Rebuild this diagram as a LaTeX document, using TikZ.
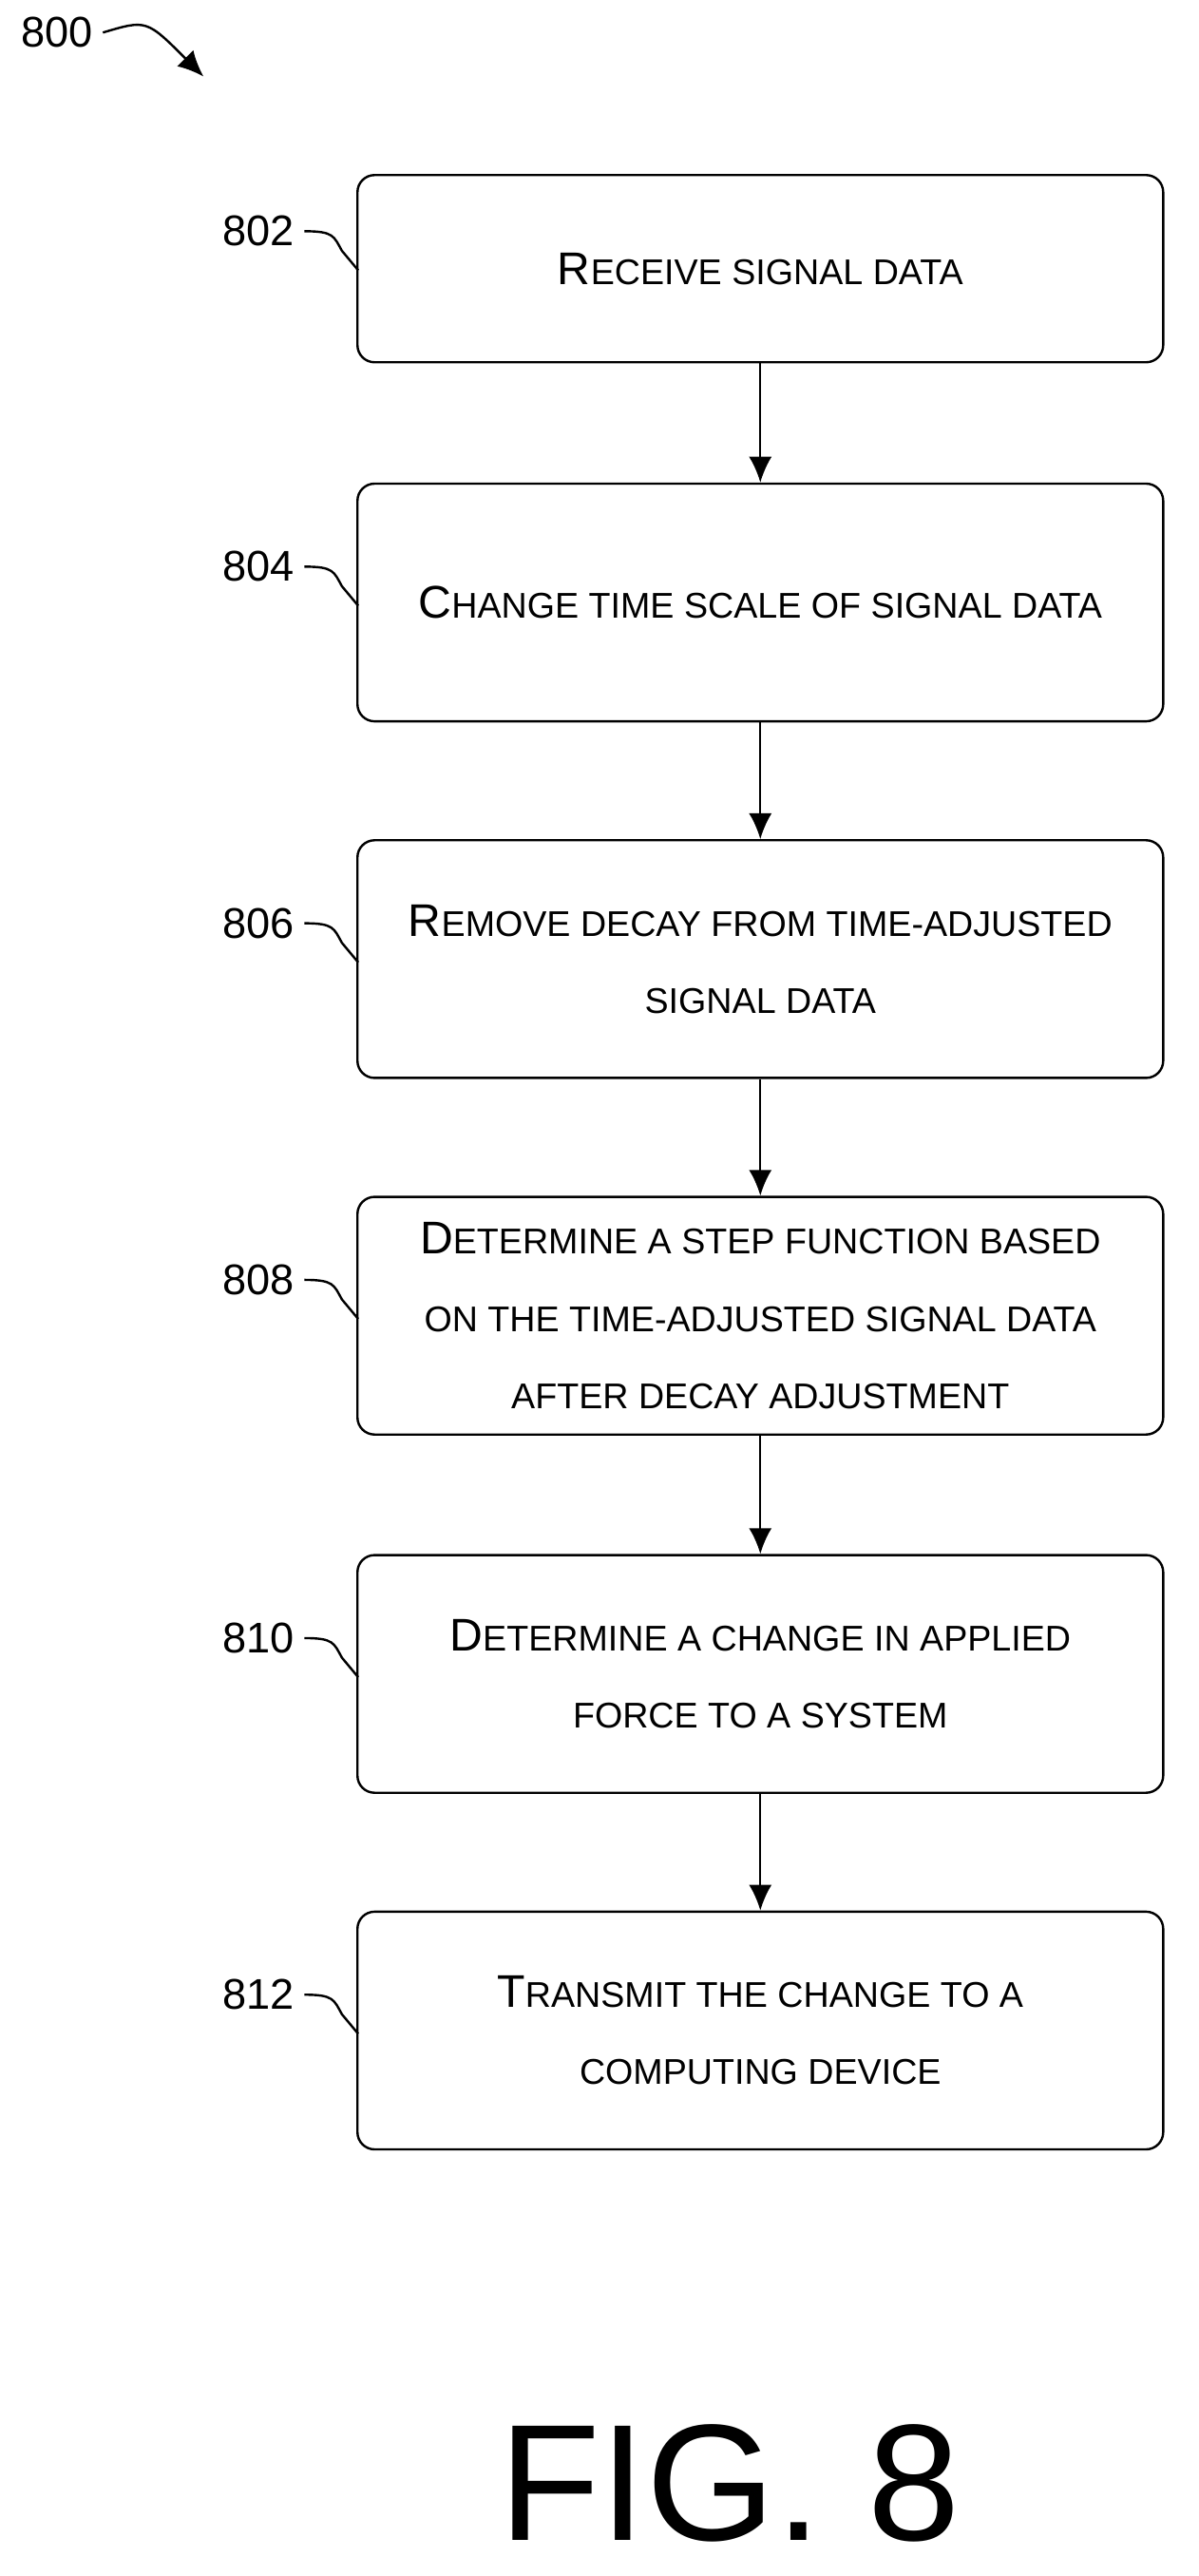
\documentclass[tikz,border=0pt]{standalone}
\usepackage{fontspec}
\setmainfont{Liberation Sans}
\usepackage{tikz}
\usetikzlibrary{positioning,arrows.meta}
\newcommand{\fc}[2]{{\fontsize{16}{19}\selectfont #1}{\fontsize{12.5}{19}\selectfont #2}}
\tikzset{
	stepbox/.style={draw, thick, rounded corners=6pt, minimum width=9.9cm, minimum height=2.92cm, align=center, font=\fontsize{12.5}{27}\selectfont},
	flow/.style={-{Latex[length=9pt,width=8pt]}, thick},
	tag/.style={font=\fontsize{15}{18}\selectfont}
}
\begin{document}
\begin{tikzpicture}[x=0.02cm, y=-0.02cm]
	\useasboundingbox (0,0) rectangle (736,1582);

	\node [tag] (n800) at (35,20) {800};
	\draw [thick, -{Latex[length=9pt,width=8pt]}] (n800.east) .. controls (90,12) .. (125,47);

	\node [stepbox, minimum height=2.3cm] (s802) at (467,165) {\fc{R}{ECEIVE SIGNAL DATA}};
	\node [stepbox] (s804) at (467,370) {\fc{C}{HANGE TIME SCALE OF SIGNAL DATA}};
	\node [stepbox] (s806) at (467,589) {\fc{R}{EMOVE DECAY FROM TIME-ADJUSTED}\\SIGNAL DATA};
	\node [stepbox] (s808) at (467,808) {\fc{D}{ETERMINE A STEP FUNCTION BASED}\\ON THE TIME-ADJUSTED SIGNAL DATA\\AFTER DECAY ADJUSTMENT};
	\node [stepbox] (s810) at (467,1028) {\fc{D}{ETERMINE A CHANGE IN APPLIED}\\FORCE TO A SYSTEM};
	\node [stepbox] (s812) at (467,1247) {\fc{T}{RANSMIT THE CHANGE TO A}\\COMPUTING DEVICE};

	\draw [flow] (s802) -- (s804);
	\draw [flow] (s804) -- (s806);
	\draw [flow] (s806) -- (s808);
	\draw [flow] (s808) -- (s810);
	\draw [flow] (s810) -- (s812);

	% step numbers
	\foreach \n/\y in {802/142, 804/348, 806/567, 808/786, 810/1006, 812/1225}{
		\node [tag, anchor=east] (t\n) at (187,\y) {\n};
		\draw [thick] (t\n.east) .. controls (205,\y) and (205,\y+3) .. (210,\y+12) -- (220,\y+24);
	}

	\node [font=\fontsize{58}{60}\selectfont] (fig) at (448,1525) {FIG. 8};
\end{tikzpicture}
\end{document}
